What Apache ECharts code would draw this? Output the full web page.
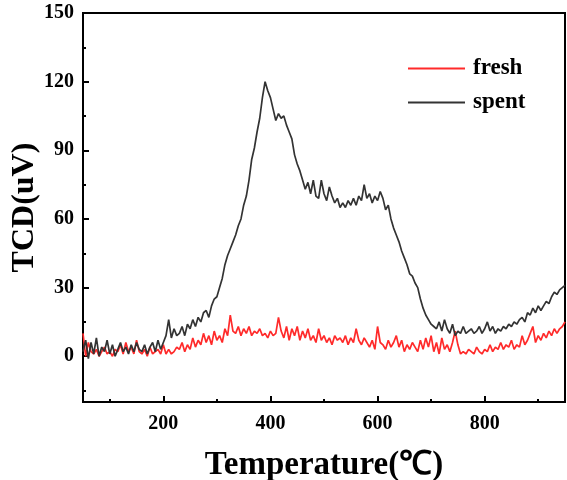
<!DOCTYPE html>
<html>
<head>
<meta charset="utf-8">
<script src="https://cdn.jsdelivr.net/npm/echarts@6/dist/echarts.min.js"></script>
<style>html,body{margin:0;padding:0;background:#fff}#c{width:567px;height:480px}</style>
</head>
<body>
<div id="c"></div>
<script>
// Temperature grid (°C), 5-degree steps 50..950
const temperature = [];
for (let t = 50; t <= 950; t += 5) temperature.push(t);

const fresh = [
10,0,6,2,1,3,0,2,4,1, 2,0,3,2,5,1,6,2,4,1,
7,2,1,3,0,4,1,2,3,1, 5,1,3,1,2,4,3,6,2,5,
3,8,4,7,5,10,6,9,5,11, 7,9,6,12,9,18,11,10,13,9,
12,10,13,9,11,10,12,9,10,8, 11,9,10,17,11,8,13,7,12,9,
13,7,11,8,12,7,9,6,12,7, 9,6,8,5,9,7,8,6,9,5,
8,6,12,7,5,8,6,4,7,3, 13,6,5,3,7,4,6,9,4,7,
2,5,3,6,4,2,7,3,8,4, 9,2,6,1,8,3,5,2,6,11,
5,1,2,1,3,2,1,4,2,1, 3,2,5,2,4,3,6,3,5,4,
7,3,5,4,9,5,7,10,13,6, 9,7,10,8,11,9,12,10,12,13,
15
];

const spent = [
2,7,-1,6,1,8,0,4,2,7, 1,5,0,3,6,2,4,1,5,2,
6,3,2,5,1,4,6,2,7,3, 6,9,16,8,12,9,10,13,9,14,
12,16,13,17,15,19,20,17,22,25, 26,30,34,40,44,47,50,53,57,60,
66,70,77,86,91,98,104,113,120,116, 113,108,103,106,104,105,101,98,95,88,
84,81,77,73,76,71,77,70,69,77, 71,68,74,70,67,69,65,67,65,68,
66,69,66,70,68,75,69,71,67,70, 68,72,69,64,66,60,56,53,50,46,
43,40,36,35,32,30,25,21,18,16, 14,13,12,15,11,16,12,10,14,9,
11,10,13,10,11,12,10,11,13,10, 12,15,11,13,10,12,11,13,12,14,
13,15,14,16,17,15,19,18,21,19, 22,20,22,24,23,26,28,27,29,30,
31
];

const seriesNames = ['fresh', 'spent'];
const xTicks = [200, 400, 600, 800];
const xMinorTicks = [100, 300, 500, 700, 900];
const yTicks = [0, 30, 60, 90, 120, 150];
const yMinorTicks = [-15, 15, 45, 75, 105, 135];

const FONT = "'Liberation Serif','Times New Roman',serif";
const chart = echarts.init(document.getElementById('c'), null, {renderer: 'canvas'});
const pair = arr => temperature.map((t, i) => [t, arr[i]]);
const labelStyle = {fontFamily: FONT, fontWeight: 'bold', fontSize: 20, color: '#000'};

chart.setOption({
  animation: false,
  backgroundColor: '#fff',
  grid: {left: 83, right: 2, top: 13, bottom: 78, show: true, borderColor: '#000', borderWidth: 2,
    backgroundColor: 'transparent', containLabel: false, outerBoundsMode: 'none'},
  legend: {
    orient: 'vertical', left: 403, top: 52, itemGap: 11,
    icon: 'rect', itemWidth: 57, itemHeight: 2,
    data: seriesNames,
    textStyle: {fontFamily: FONT, fontWeight: 'bold', fontSize: 23, color: '#000', padding: [0,0,0,3]}
  },
  xAxis: [{
    type: 'value', min: 50, max: 950, interval: 100,
    name: 'Temperature(℃)', nameLocation: 'middle', nameGap: 47,
    nameTextStyle: {fontFamily: FONT, fontWeight: 'bold', fontSize: 33, color: '#000'},
    axisLine: {show: true, onZero: false, lineStyle: {color: '#000', width: 2}},
    axisTick: {show: true, inside: true, length: 6, lineStyle: {color: '#000', width: 2},
      customValues: xTicks},
    axisLabel: Object.assign({margin: 12, customValues: xTicks}, labelStyle),
    splitLine: {show: false}
  }, {
    type: 'value', min: 50, max: 950, position: 'bottom',
    axisLine: {show: false, onZero: false},
    axisTick: {show: true, inside: true, length: 3, lineStyle: {color: '#000', width: 2},
      customValues: xMinorTicks},
    axisLabel: {show: false},
    splitLine: {show: false}
  }],
  yAxis: [{
    type: 'value', min: -20, max: 150,
    name: 'TCD(uV)', nameLocation: 'middle', nameGap: 42, nameMoveOverlap: false,
    nameTextStyle: {fontFamily: FONT, fontWeight: 'bold', fontSize: 32, color: '#000'},
    axisLine: {show: true, onZero: false, lineStyle: {color: '#000', width: 2}},
    axisTick: {show: true, inside: true, length: 6, lineStyle: {color: '#000', width: 2},
      customValues: yTicks},
    axisLabel: Object.assign({margin: 9, customValues: yTicks}, labelStyle),
    splitLine: {show: false}
  }, {
    type: 'value', min: -20, max: 150, position: 'left',
    axisLine: {show: false, onZero: false},
    axisTick: {show: true, inside: true, length: 3, lineStyle: {color: '#000', width: 2},
      customValues: yMinorTicks},
    axisLabel: {show: false},
    splitLine: {show: false}
  }],
  series: [
    {name: 'fresh', type: 'line', data: pair(fresh), showSymbol: false, symbol: 'none',
     lineStyle: {color: '#FF2A2A', width: 1.7}, itemStyle: {color: '#FF2A2A'}, z: 2},
    {name: 'spent', type: 'line', data: pair(spent), showSymbol: false, symbol: 'none',
     lineStyle: {color: '#333333', width: 1.7}, itemStyle: {color: '#333333'}, z: 3}
  ]
});
</script>
</body>
</html>
